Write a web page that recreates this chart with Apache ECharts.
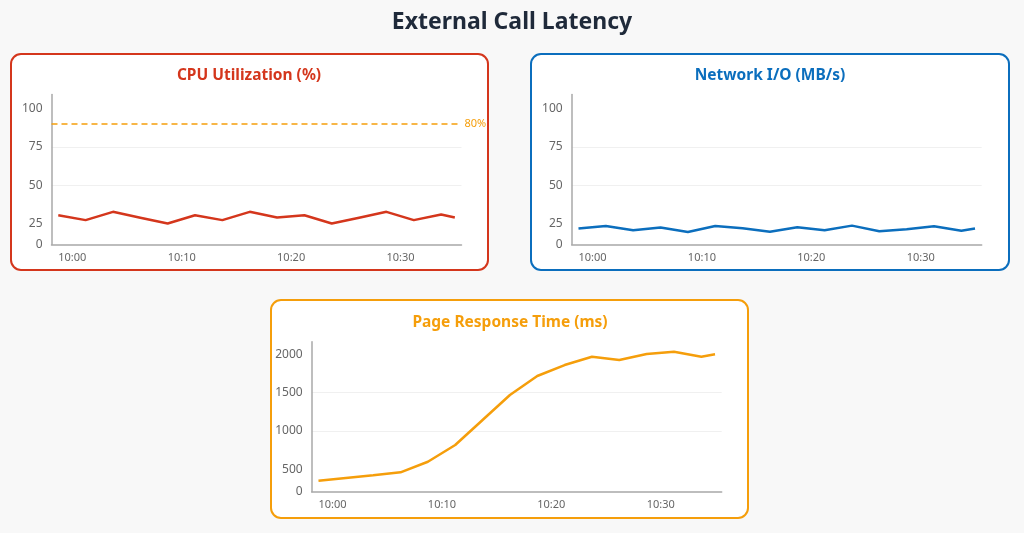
<!DOCTYPE html>
<html>
<head>
<meta charset="utf-8">
<title>External Call Latency</title>
<script src="https://cdn.jsdelivr.net/npm/echarts@6/dist/echarts.min.js"></script>
<style>
  html, body { margin: 0; padding: 0; background: #f8f8f8; }
  #main { width: 1024px; height: 533px; }
</style>
</head>
<body>
<div id="main"></div>
<script>
// minutes after 10:00
const minutes = [0, 2.5, 5, 7.5, 10, 12.5, 15, 17.5, 20, 22.5, 25, 27.5, 30, 32.5, 35, 36.25]
const cpu = [30.4, 27.2, 32.6, 28.8, 25.0, 30.4, 27.2, 32.6, 28.9, 30.4, 25.0, 28.8, 32.6, 27.2, 30.9, 28.9]
const network = [21.7, 23.4, 20.6, 22.4, 19.5, 23.4, 21.9, 19.6, 22.6, 20.6, 23.6, 20.0, 21.3, 23.2, 20.2, 21.7]
const pageTime = [351, 388, 424, 461, 599, 817, 1144, 1470, 1718, 1861, 1970, 1927, 2005, 2035, 1970, 2001]

const timeTicks = [0, 10, 20, 30]
const pctTicks = [0, 25, 50, 75, 100]
const pctGrid = [50, 75]
const msTicks = [0, 500, 1000, 1500, 2000]
const msGrid = [1000, 1500]
const cpuThreshold = 90
const cpuThresholdLabel = '80%'

const font = 'Noto Sans'
const axisGray = '#a8a8a8'
const labelGray = '#666'

const panels = [
  {
    title: 'CPU Utilization (%)', color: '#d4361c', values: cpu,
    box: { x: 11, y: 54, width: 477, height: 216 }, titleX: 249, titleY: 76,
    grid: { left: 51.5, top: 94.5, width: 410, height: 150 },
    yMin: 11.3, yMax: 109.1, ticks: pctTicks, gridValues: pctGrid
  },
  {
    title: 'Network I/O (MB/s)', color: '#0b6ebd', values: network,
    box: { x: 531, y: 54, width: 478, height: 216 }, titleX: 770, titleY: 76,
    grid: { left: 571.7, top: 94.5, width: 410, height: 150 },
    yMin: 11.3, yMax: 109.1, ticks: pctTicks, gridValues: pctGrid
  },
  {
    title: 'Page Response Time (ms)', color: '#f59e0b', values: pageTime,
    box: { x: 271, y: 300, width: 477, height: 218 }, titleX: 510, titleY: 323,
    grid: { left: 311.7, top: 341.7, width: 410, height: 150 },
    yMin: 208, yMax: 2166, ticks: msTicks, gridValues: msGrid
  }
]

function timeLabel (m) {
  let mm = Math.floor(m)
  return '10:' + (mm < 10 ? '0' + mm : mm)
}

let graphic = [{
  type: 'text', x: 512, y: 22,
  style: { text: 'External Call Latency', font: 'bold 23px ' + font, fill: '#1f2a3a', align: 'center', verticalAlign: 'middle' }
}]
let grids = []
let xAxes = []
let yAxes = []
let series = []

panels.forEach((p, i) => {
  graphic.push({
    type: 'rect', z: -1,
    shape: { x: p.box.x, y: p.box.y, width: p.box.width, height: p.box.height, r: 10 },
    style: { fill: '#fff', stroke: p.color, lineWidth: 2 }
  })
  graphic.push({
    type: 'text', x: p.titleX, y: p.titleY,
    style: { text: p.title, font: 'bold 15.5px ' + font, fill: p.color, align: 'center', verticalAlign: 'middle' }
  })
  grids.push(Object.assign({ containLabel: false }, p.grid))
  xAxes.push({
    type: 'value', gridIndex: i, min: -0.62, max: 36.86,
    axisLine: { onZero: false, lineStyle: { color: axisGray, width: 1.5 } },
    axisTick: { show: false },
    splitLine: { show: false },
    axisLabel: {
      customValues: timeTicks, formatter: timeLabel, align: 'left',
      color: labelGray, fontFamily: font, fontSize: 11, margin: 8
    }
  })
  let labelValues = p.ticks.map((t, k) => k === 0 ? p.yMin : t)
  yAxes.push({
    type: 'value', gridIndex: i, min: p.yMin, max: p.yMax,
    axisLine: { show: true, onZero: false, lineStyle: { color: axisGray, width: 1.5 } },
    axisTick: { show: false, customValues: p.gridValues },
    splitLine: { show: true, lineStyle: { color: '#f0f0f0', width: 1 } },
    axisLabel: {
      customValues: labelValues,
      formatter: v => v === p.yMin ? '0' : String(v),
      color: labelGray, fontFamily: font, fontSize: 12, margin: 9,
      padding: [4, 0, 0, 0]
    }
  })
  let s = {
    type: 'line', xAxisIndex: i, yAxisIndex: i,
    data: minutes.map((m, k) => [m, p.values[k]]),
    showSymbol: false,
    lineStyle: { color: p.color, width: 2.5 },
    itemStyle: { color: p.color }
  }
  if (i === 0) {
    s.markLine = {
      silent: true, symbol: 'none',
      data: [{ yAxis: cpuThreshold }],
      lineStyle: { color: '#f59e0b', type: [6, 4], width: 1.5 },
      label: { position: 'end', formatter: cpuThresholdLabel, color: '#f59e0b', fontFamily: font, fontSize: 11, distance: 3 }
    }
  }
  series.push(s)
})

let chart = echarts.init(document.getElementById('main'))
chart.setOption({
  backgroundColor: '#f8f8f8',
  animation: false,
  graphic: graphic,
  grid: grids,
  xAxis: xAxes,
  yAxis: yAxes,
  series: series
})
</script>
</body>
</html>
